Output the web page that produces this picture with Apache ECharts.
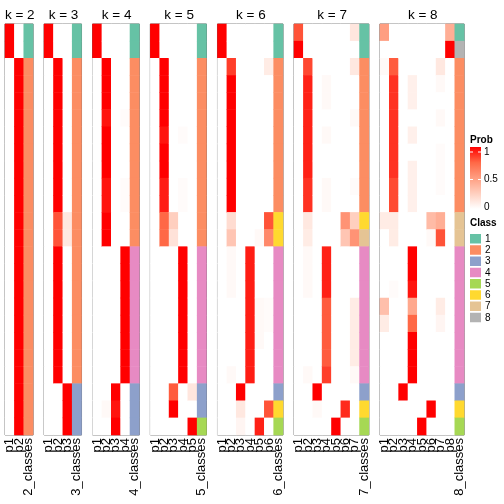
<!DOCTYPE html>
<html><head><meta charset="utf-8">
<script src="https://cdn.jsdelivr.net/npm/echarts@6/dist/echarts.min.js"></script>
<style>html,body{margin:0;padding:0;background:#fff}#c{width:504px;height:504px}</style>
</head><body><div id="c"></div>
<script>
// rows: 24 samples (top to bottom)
const k2_p1 = [1,1,0,0,0,0,0,0,0,0,0,0,0,0,0,0,0,0,0,0,0,0,0,0];
const k2_p2 = [0,0,1,1,1,1,1,1,1,1,1,1,1,1,1,1,1,1,1,1,1,1,1,1];
const k2_class = [1,1,2,2,2,2,2,2,2,2,2,2,2,2,2,2,2,2,2,2,2,2,2,2];

const k3_p1 = [1,1,0,0,0,0,0,0,0,0,0,0,0,0,0,0,0,0,0,0,0,0,0,0];
const k3_p2 = [0,0,1,1,1,1,1,1,1,1,1,0.8,0.8,1,1,1,1,1,1,1,1,0,0,0];
const k3_p3 = [0,0,0,0,0,0,0,0,0,0,0,0.12,0.12,0,0,0,0,0,0,0,0,1,1,1];
const k3_class = [1,1,2,2,2,2,2,2,2,2,2,2,2,2,2,2,2,2,2,2,2,3,3,3];

const k4_p1 = [1,1,0,0,0,0,0,0,0,0,0,0,0,0,0,0,0,0,0,0,0,0,0,0];
const k4_p2 = [0,0,1,1,1,0.95,1,1,1,0.95,0.95,1,1,0,0,0,0,0,0,0,0,0,0.03,0];
const k4_p3 = [0,0,0,0,0,0,0,0,0,0,0,0,0,0,0,0,0,0,0,0,0,1,0.95,1];
const k4_p4 = [0,0,0,0,0,0.02,0,0,0,0.02,0.02,0,0,1,1,1,1,1,1,1,1,0,0,0];
const k4_class = [1,1,2,2,2,2,2,2,2,2,2,2,2,4,4,4,4,4,4,4,4,3,3,3];

const k5_p1 = [1,1,0,0,0,0,0,0,0,0,0,0,0,0,0,0,0,0,0,0,0,0,0,0];
const k5_p2 = [0,0,1,1,1,1,0.95,1,1,0.93,0.93,0.75,0.75,0,0,0,0,0,0,0,0,0,0,0];
const k5_p3 = [0,0,0,0,0,0,0,0,0,0,0,0.25,0.15,0,0,0,0,0,0,0,0,0.78,1,0];
const k5_p4 = [0,0,0,0,0,0,0.02,0,0,0.02,0.02,0,0,1,1,1,1,1,1,1,1,0,0,0];
const k5_p5 = [0,0,0,0,0,0,0,0,0,0,0,0,0,0,0,0,0,0,0,0,0,0.13,0,1];
const k5_class = [1,1,2,2,2,2,2,2,2,2,2,2,2,4,4,4,4,4,4,4,4,3,3,5];

const k6_p1 = [1,1,0,0,0,0,0,0,0,0,0,0,0,0,0,0,0,0,0,0,0,0,0,0];
const k6_p2 = [0,0,0.85,1,1,1,1,1,1,1,1,0.18,0.3,0.03,0.03,0.03,0,0,0,0,0.03,0,0,0];
const k6_p3 = [0,0,0,0,0,0,0,0,0,0,0,0,0,0,0,0,0,0,0,0,0,1,0.12,0.05];
const k6_p4 = [0,0,0,0,0,0,0,0,0,0,0,0,0,0.93,0.93,0.93,0.93,0.93,0.93,0.93,0.93,0,0,0];
const k6_p5 = [0,0,0,0,0,0,0,0,0,0,0,0,0.03,0,0,0,0.03,0.03,0.03,0,0,0,0,0.92];
const k6_p6 = [0,0,0.1,0,0,0,0,0,0,0,0,0.8,0.6,0,0,0,0.02,0.02,0,0,0,0,0.8,0];
const k6_class = [1,1,2,2,2,2,2,2,2,2,2,6,6,4,4,4,4,4,4,4,4,3,6,5];

const k7_p1 = [0.8,1,0,0,0,0,0,0,0,0,0,0,0,0,0,0,0,0,0,0,0,0,0,0];
const k7_p2 = [0,0,0.83,0.92,0.92,0.92,0.92,0.92,0.92,0.88,0.88,0.12,0.1,0.03,0.03,0.03,0,0,0,0,0.03,0,0,0];
const k7_p3 = [0,0,0,0,0,0,0,0,0,0,0,0,0,0,0,0,0,0,0,0,0,1,0.03,0];
const k7_p4 = [0,0,0,0.03,0.03,0,0.03,0,0,0.03,0.03,0,0,0.92,0.92,0.92,0.78,0.78,0.78,0.78,0.85,0,0,0];
const k7_p5 = [0,0,0,0,0,0,0,0,0,0,0,0,0,0,0,0,0,0,0,0,0,0,0,1];
const k7_p6 = [0,0,0,0,0,0,0,0,0,0,0,0.55,0.3,0,0,0,0,0,0,0,0,0,0.9,0];
const k7_p7 = [0.13,0,0.12,0,0,0.03,0,0,0,0.02,0,0.25,0.55,0,0,0,0.1,0.1,0.1,0.1,0.03,0,0,0];
const k7_class = [1,1,2,2,2,2,2,2,2,2,2,6,7,4,4,4,4,4,4,4,4,3,6,5];

const k8_p1 = [0.5,0,0.03,0,0,0,0,0,0,0,0,0.1,0,0,0,0,0.33,0.1,0,0,0,0,0,0];
const k8_p2 = [0,0,0.78,0.88,0.88,0.88,0.88,0.88,0.88,0.82,0.82,0.1,0.1,0,0,0.02,0,0,0,0,0,0,0,0];
const k8_p3 = [0,0,0,0,0,0,0,0,0,0,0,0,0,0,0,0,0,0,0,0,0,1,0,0];
const k8_p4 = [0,0,0,0.08,0.08,0,0.08,0,0.08,0.08,0.08,0,0,1,1,0.95,0.45,0.75,1,1,1,0,0,0];
const k8_p5 = [0,0,0,0,0,0,0,0,0,0,0,0,0,0,0,0,0,0,0,0,0,0,0,1];
const k8_p6 = [0,0,0,0,0,0,0,0,0,0,0,0.35,0.03,0,0,0,0,0,0,0,0,0,1,0];
const k8_p7 = [0,0,0.12,0.03,0,0.03,0,0.02,0.02,0.02,0,0.42,0.8,0,0,0,0.1,0.05,0,0,0,0,0,0];
const k8_p8 = [0.42,1,0,0,0,0,0,0,0,0,0,0,0,0,0,0,0,0,0,0,0,0,0,0];
const k8_class = [1,8,2,2,2,2,2,2,2,2,2,7,7,4,4,4,4,4,4,4,4,3,6,5];

const classLabels = ['1','2','3','4','5','6','7','8'];
const probTicks = ['1','0.5','0'];

const panels = [
  {k:2, probs:[k2_p1,k2_p2], cls:k2_class},
  {k:3, probs:[k3_p1,k3_p2,k3_p3], cls:k3_class},
  {k:4, probs:[k4_p1,k4_p2,k4_p3,k4_p4], cls:k4_class},
  {k:5, probs:[k5_p1,k5_p2,k5_p3,k5_p4,k5_p5], cls:k5_class},
  {k:6, probs:[k6_p1,k6_p2,k6_p3,k6_p4,k6_p5,k6_p6], cls:k6_class},
  {k:7, probs:[k7_p1,k7_p2,k7_p3,k7_p4,k7_p5,k7_p6,k7_p7], cls:k7_class},
  {k:8, probs:[k8_p1,k8_p2,k8_p3,k8_p4,k8_p5,k8_p6,k8_p7,k8_p8], cls:k8_class}
];
const classColors = ['#66C2A5','#FC8D62','#8DA0CB','#E78AC3','#A6D854','#FFD92F','#E5C494','#B3B3B3'];
const probColors = ['#FFFFFF','#FFCFBF','#FF9E81','#FF6846','#FF0000'];

const FONT = 'Liberation Sans';
const colW = 9.36, gapX = 11, x0 = 5, plotTop = 24, plotBottom = 435;
const nRows = k2_class.length;
const rowCats = Array.from({length:nRows}, (_, i) => String(i));

const grids = [], xAxes = [], yAxes = [], series = [], titles = [];
const probSeries = [], classSeries = [];
let leftPos = x0;
panels.forEach((p, gi) => {
  const n = p.k + 1;
  const w = n * colW;
  grids.push({left: leftPos, top: plotTop, width: w, height: plotBottom - plotTop, show: true,
    borderColor: '#666', borderWidth: 1, backgroundColor: 'transparent', containLabel: false});
  const cats = p.probs.map((_, i) => 'p' + (i + 1)).concat([p.k + '_classes']);
  xAxes.push({type: 'category', gridIndex: gi, data: cats, position: 'bottom',
    axisLine: {show: false}, axisTick: {show: false}, splitLine: {show: false},
    axisLabel: {rotate: 90, interval: 0, fontSize: 13, fontFamily: FONT, color: '#000', margin: 3}});
  yAxes.push({type: 'category', gridIndex: gi, data: rowCats, inverse: true, show: false});
  const pd = [];
  p.probs.forEach((col, ci) => col.forEach((v, ri) => pd.push([ci, ri, v])));
  probSeries.push(series.length);
  series.push({type: 'heatmap', xAxisIndex: gi, yAxisIndex: gi, data: pd, silent: true,
    itemStyle: {borderWidth: 0}, emphasis: {disabled: true}, progressive: 0});
  const cd = p.cls.map((c, ri) => [p.k, ri, c]);
  classSeries.push(series.length);
  series.push({type: 'heatmap', xAxisIndex: gi, yAxisIndex: gi, data: cd, silent: true,
    itemStyle: {borderWidth: 0}, emphasis: {disabled: true}, progressive: 0});
  titles.push({text: 'k = ' + p.k, left: leftPos + w / 2 - 4.3, top: 3, textAlign: 'center',
    textStyle: {fontSize: 13.5, fontWeight: 'normal', fontFamily: FONT, color: '#000'}});
  leftPos += w + gapX;
});

// legend graphics
const lx = 470;
const graphic = [
  {type: 'text', x: lx, y: 135, style: {text: 'Prob', font: 'bold 10px ' + FONT, fill: '#000'}},
  {type: 'rect', shape: {x: lx, y: 147, width: 11, height: 62},
   style: {fill: new echarts.graphic.LinearGradient(0, 0, 0, 1, [
     {offset: 0, color: '#FF0000'}, {offset: 0.25, color: '#FF6846'}, {offset: 0.5, color: '#FF9E81'},
     {offset: 0.75, color: '#FFCFBF'}, {offset: 1, color: '#FFFFFF'}])}},
  {type: 'line', shape: {x1: lx, y1: 152, x2: lx + 3, y2: 152}, style: {stroke: '#fff', lineWidth: 1}},
  {type: 'line', shape: {x1: lx + 8, y1: 152, x2: lx + 11, y2: 152}, style: {stroke: '#fff', lineWidth: 1}},
  {type: 'line', shape: {x1: lx, y1: 179.5, x2: lx + 3, y2: 179.5}, style: {stroke: '#fff', lineWidth: 1}},
  {type: 'line', shape: {x1: lx + 8, y1: 179.5, x2: lx + 11, y2: 179.5}, style: {stroke: '#fff', lineWidth: 1}},
  {type: 'text', x: lx + 14, y: 147, style: {text: probTicks[0], font: '10px ' + FONT, fill: '#000'}},
  {type: 'text', x: lx + 14, y: 174.5, style: {text: probTicks[1], font: '10px ' + FONT, fill: '#000'}},
  {type: 'text', x: lx + 14, y: 202, style: {text: probTicks[2], font: '10px ' + FONT, fill: '#000'}},
  {type: 'text', x: lx, y: 218.5, style: {text: 'Class', font: 'bold 10px ' + FONT, fill: '#000'}}
];
classLabels.forEach((lab, i) => {
  const y = 234 + i * 11.25;
  graphic.push({type: 'rect', shape: {x: lx, y: y, width: 11, height: 9.5}, style: {fill: classColors[i]}});
  graphic.push({type: 'text', x: lx + 15, y: y, style: {text: lab, font: '10px ' + FONT, fill: '#000'}});
});

const chart = echarts.init(document.getElementById('c'), null, {renderer: 'canvas'});
chart.setOption({
  animation: false,
  backgroundColor: '#fff',
  title: titles,
  grid: grids, xAxis: xAxes, yAxis: yAxes, series: series,
  visualMap: [
    {type: 'continuous', min: 0, max: 1, show: false, seriesIndex: probSeries, inRange: {color: probColors}},
    {type: 'piecewise', show: false, seriesIndex: classSeries,
     pieces: classColors.map((c, i) => ({value: i + 1, color: c}))}
  ],
  graphic: graphic
});
</script></body></html>
